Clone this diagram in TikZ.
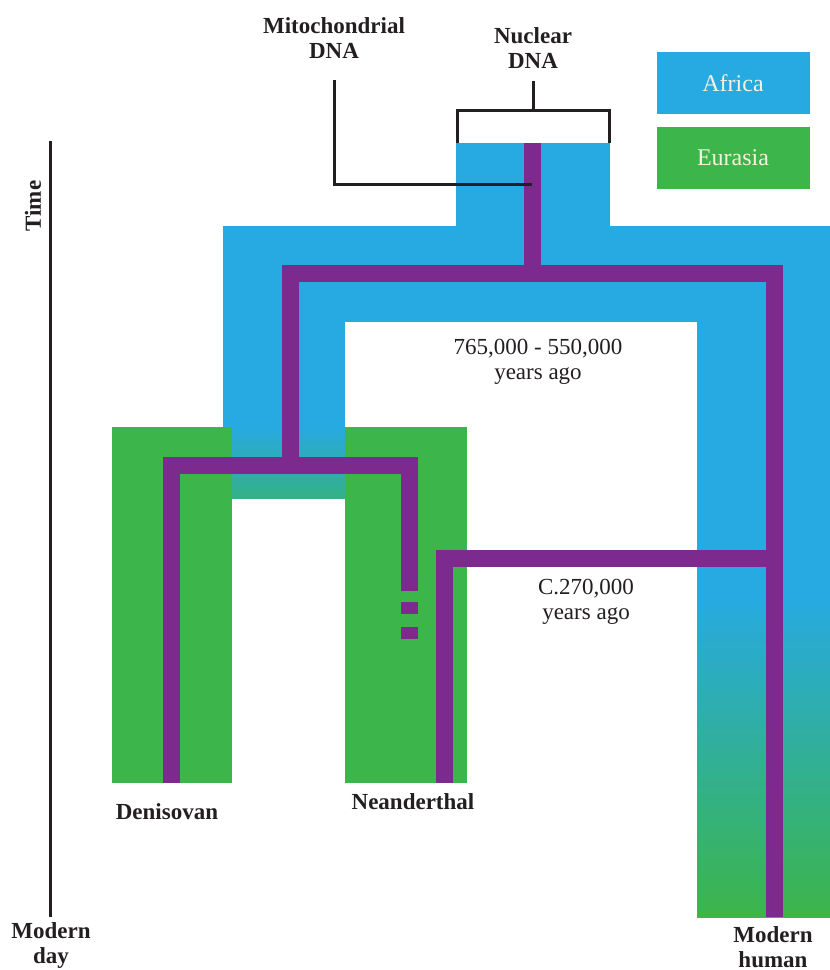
\documentclass[tikz,border=0pt]{standalone}
\usepackage{fontspec}
\setmainfont{Liberation Serif}
\usetikzlibrary{positioning}
\definecolor{Africa}{HTML}{27AAE1}
\definecolor{Eurasia}{HTML}{3CB54A}
\definecolor{Lineage}{HTML}{7C2A8E}
\definecolor{Ink}{HTML}{231F20}
\definecolor{Cream}{HTML}{F4F1DF}
\tikzset{
  tag/.style={font=\bfseries\fontsize{11.5}{12.5}\selectfont,text=Ink,align=center,inner sep=0pt},
  dates/.style={font=\fontsize{11.5}{12.5}\selectfont,text=Ink,align=center,inner sep=0pt},
  key/.style={minimum width=76.5pt,minimum height=31pt,text=Cream,font=\fontsize{12}{13}\selectfont},
  lineage/.style={draw=Lineage,line width=8.5pt},
  pointer/.style={draw=Ink,line width=1.5pt}
}
\begin{document}
\begin{tikzpicture}[x=0.5pt,y=-0.5pt]
  \useasboundingbox (0,0) rectangle (830,970);
  % populations
  \fill[Africa] (456,143) rectangle (610,227);
  \fill[Africa] (223,226) rectangle (830,322);
  \fill[Africa] (223,321) rectangle (345,428);
  \shade[top color=Africa,bottom color=Africa!40!Eurasia] (223,427) rectangle (345,498);
  \fill[Africa] (697,321) rectangle (830,600);
  \shade[top color=Africa,bottom color=Eurasia] (697,599) rectangle (830,917);
  \fill[Eurasia] (112,427) rectangle (232,783);
  \fill[Eurasia] (345,427) rectangle (467,783);
  % lineages
  \draw[lineage] (532,143) -- (532,273);
  \draw[lineage] (290,465) -- (290,273) -- (774,273) -- (774,917);
  \draw[lineage] (171,783) -- (171,465) -- (409,465) -- (409,591);
  \foreach \y in {602,627} \draw[lineage] (409,\y) -- (409,\y+12);
  \draw[lineage] (774,558) -- (444,558) -- (444,783);
  % labels
  \node[tag] (mito) at (334,38) {Mitochondrial\\DNA};
  \node[tag] (nuclear) at (533,48) {Nuclear\\DNA};
  \node[tag,rotate=90] (time) at (33,206) {Time};
  \node[tag] (today) at (51,945) {Modern\\day};
  \node[tag] (deni) at (167,812) {Denisovan};
  \node[tag] (neand) at (413,802) {Neanderthal};
  \node[tag] (human) at (773,947) {Modern\\human};
  \node[dates] (split) at (538,362) {765,000 - 550,000\\years ago};
  \node[dates] (mix) at (586,602) {C.270,000\\years ago};
  \node[key,fill=Africa] (africa) at (733,83) {Africa};
  \node[key,fill=Eurasia] (eurasia) at (733,157.5) {Eurasia};
  % pointers
  \coordinate (mitotip) at (532,184);
  \coordinate (braceL) at (457,143);
  \coordinate (braceR) at (609,143);
  \coordinate (past) at (50,141);
  \coordinate (now) at (50,917);
  \draw[pointer] ([yshift=-10.5pt]mito.south) |- (mitotip);
  \draw[pointer] ([yshift=-6pt]nuclear.south) -- ++(0,28);
  \draw[pointer] (braceL) -- ++(0,-33) -| (braceR);
  \draw[pointer] (past) -- (now);
\end{tikzpicture}
\end{document}
